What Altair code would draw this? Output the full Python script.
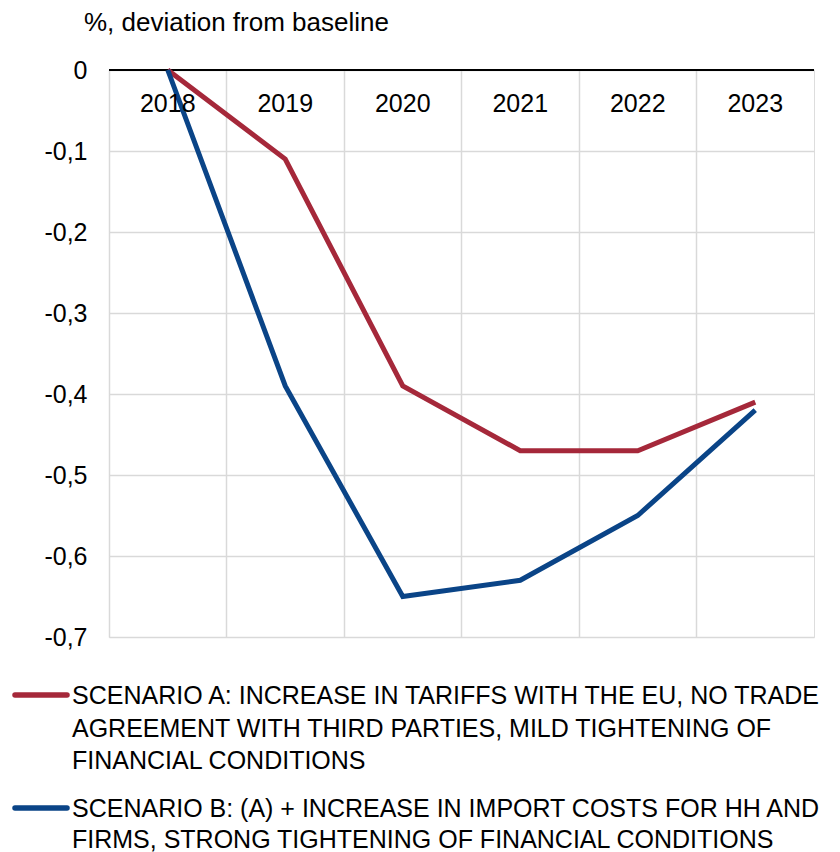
import altair as alt
import pandas as pd

years = ["2018", "2019", "2020", "2021", "2022", "2023"]
scenario_a = [0.0, -0.11, -0.39, -0.47, -0.47, -0.41]
scenario_b = [0.0, -0.39, -0.65, -0.63, -0.55, -0.42]
series_names = ["Scenario A", "Scenario B"]
series_colors = ["#A5283A", "#0A4487"]
legend_lines_a = [
    "SCENARIO A: INCREASE IN TARIFFS WITH THE EU, NO TRADE",
    "AGREEMENT WITH THIRD PARTIES, MILD TIGHTENING OF",
    "FINANCIAL CONDITIONS",
]
legend_lines_b = [
    "SCENARIO B: (A) + INCREASE IN IMPORT COSTS FOR HH AND",
    "FIRMS, STRONG TIGHTENING OF FINANCIAL CONDITIONS",
]

FONT = "Liberation Sans"
W, H = 705, 567

df = pd.DataFrame(
    {
        "year": years * 2,
        "value": scenario_a + scenario_b,
        "series": [series_names[0]] * len(years) + [series_names[1]] * len(years),
    }
)

xscale = alt.Scale(type="band", domain=years, paddingInner=0, paddingOuter=0)
yscale = alt.Scale(domain=[-0.7, 0], nice=False)

base = alt.Chart(df)

grid = base.mark_line(opacity=0).encode(
    x=alt.X(
        "year:O",
        scale=xscale,
        axis=alt.Axis(
            title=None, labels=False, ticks=False, domain=False, grid=True,
            bandPosition=0, gridColor="#d9d9d9", gridWidth=1.5,
        ),
    ),
    y=alt.Y(
        "value:Q",
        scale=yscale,
        axis=alt.Axis(
            title=None, values=[0, -0.1, -0.2, -0.3, -0.4, -0.5, -0.6, -0.7],
            labelExpr="datum.value == 0 ? '0' : replace(replace(format(datum.value, '.1f'), '.', ','), '\u2212', '-')",
            labelFont=FONT, labelFontSize=25, labelColor="#000000",
            labelPadding=22, ticks=False, domain=False, grid=True,
            gridColor="#d9d9d9", gridWidth=1.5,
        ),
    ),
)

zero = alt.Chart(pd.DataFrame({"z": [0]})).mark_rule(color="#000000", strokeWidth=2).encode(
    y=alt.Y("z:Q", scale=yscale)
)

lines = base.mark_line(strokeWidth=5, strokeJoin="miter").encode(
    x=alt.X("year:O", scale=xscale, bandPosition=0.5),
    y=alt.Y("value:Q", scale=yscale),
    color=alt.Color(
        "series:N",
        scale=alt.Scale(domain=series_names, range=series_colors),
        legend=None,
    ),
)

year_labels = alt.Chart(pd.DataFrame({"year": years})).mark_text(
    font=FONT, fontSize=25, color="#000000", baseline="middle"
).encode(
    x=alt.X("year:O", scale=xscale, bandPosition=0.5),
    y=alt.value(34),
    text="year:N",
)

# Custom legend
leg_sym = pd.DataFrame({"series": series_names, "ypix": [625, 738]})
legend_symbols = alt.Chart(leg_sym).mark_rule(strokeWidth=5.5, strokeCap="round").encode(
    x=alt.value(-94),
    x2=alt.value(-42),
    y=alt.Y("ypix:Q", scale=None),
    color=alt.Color("series:N", scale=alt.Scale(domain=series_names, range=series_colors), legend=None),
)

leg_text = pd.DataFrame(
    {
        "text": legend_lines_a + legend_lines_b,
        "ypix": [626, 659, 691, 739, 770],
    }
)
legend_texts = alt.Chart(leg_text).mark_text(
    font=FONT, fontSize=25, color="#000000", align="left", baseline="middle"
).encode(
    x=alt.value(-37),
    y=alt.Y("ypix:Q", scale=None),
    text="text:N",
)

chart = (
    alt.layer(grid, zero, lines, year_labels, legend_symbols, legend_texts)
    .properties(
        width=W,
        height=H,
        padding={"left": 4, "top": 2, "right": 5, "bottom": 0},
        title=alt.TitleParams(
            "%, deviation from baseline",
            anchor="start", frame="group", dx=-25, offset=22,
            font=FONT, fontSize=26, fontWeight="normal", color="#000000",
        ),
    )
    .configure_view(stroke="#d9d9d9", strokeWidth=1.5)
    .configure(background="#ffffff")
)

chart.save("out.html", embed_options={"renderer": "svg", "actions": False})
